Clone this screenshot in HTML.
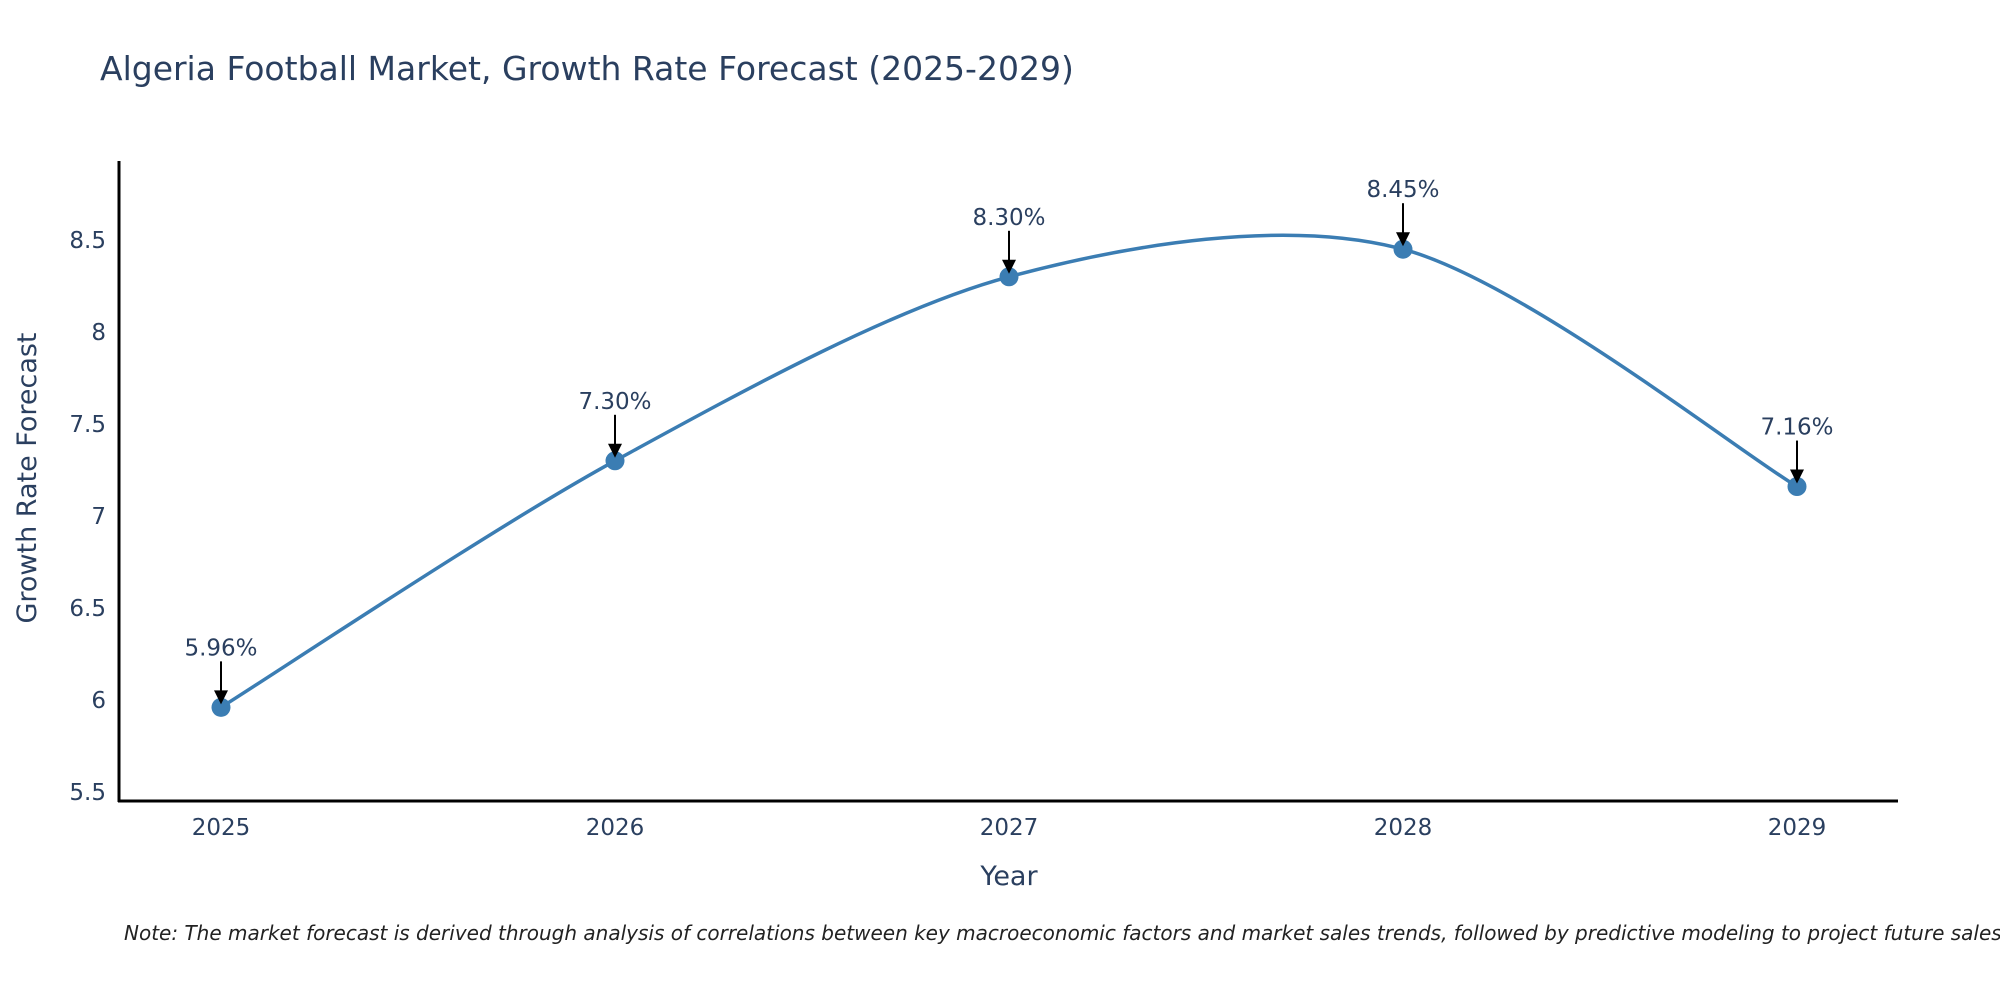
<!DOCTYPE html>
<html><head><meta charset="utf-8"><style>
body{margin:0;background:#fff;overflow:hidden;}
svg text{font-family:"DejaVu Sans","Liberation Sans",sans-serif;fill:#2a3f5f;}
</style></head><body>
<svg id="chart" width="2000" height="1000" xmlns="http://www.w3.org/2000/svg">
<text x="100" y="80" font-size="33">Algeria Football Market, Growth Rate Forecast (2025-2029)</text>
<g id="yticks"></g>
<g id="xticks"></g>
<line x1="119" y1="161" x2="119" y2="802" stroke="#000" stroke-width="3"/>
<line x1="118" y1="801" x2="1898" y2="801" stroke="#000" stroke-width="3"/>
<path id="line" fill="none" stroke="#3b7db3" stroke-width="3.5"/>
<g id="points"></g>
<g id="annots"></g>
<text transform="translate(36,478) rotate(-90)" text-anchor="middle" font-size="27">Growth Rate Forecast</text>
<text x="1009" y="885" text-anchor="middle" font-size="27">Year</text>
<text x="124" y="940" font-size="20" font-style="italic" style="fill:#222">Note: The market forecast is derived through analysis of correlations between key macroeconomic factors and market sales trends, followed by predictive modeling to project future sales.</text>
</svg>
<script>
const years=[2025,2026,2027,2028,2029];
const values=[5.96,7.30,8.30,8.45,7.16];
const labels=["5.96%","7.30%","8.30%","8.45%","7.16%"];
const yTicks=[5.5,6,6.5,7,7.5,8,8.5];
const yTickLabels=["5.5","6","6.5","7","7.5","8","8.5"];
const NS="http://www.w3.org/2000/svg";
function xs(v){return 221+(v-2025)*394;}
function ys(v){return 792-(v-5.5)*184;}
function mk(t,a,p){const e=document.createElementNS(NS,t);for(const k in a)e.setAttribute(k,a[k]);p.appendChild(e);return e;}
const yg=document.getElementById('yticks');
yTicks.forEach((t,i)=>{const e=mk('text',{x:106,y:ys(t)+8,'text-anchor':'end','font-size':23},yg);e.textContent=yTickLabels[i];

});
const xg=document.getElementById('xticks');
years.forEach(y=>{const e=mk('text',{x:xs(y),y:835,'text-anchor':'middle','font-size':23},xg);e.textContent=String(y);

});
const P=years.map((y,i)=>[xs(y),ys(values[i])]);
let d='M'+P[0][0]+','+P[0][1];
const s=0.15;
for(let i=0;i<P.length-1;i++){
 const p0=P[Math.max(i-1,0)],p1=P[i],p2=P[i+1],p3=P[Math.min(i+2,P.length-1)];
 const c1=[p1[0]+(p2[0]-p0[0])*s,p1[1]+(p2[1]-p0[1])*s];
 const c2=[p2[0]-(p3[0]-p1[0])*s,p2[1]-(p3[1]-p1[1])*s];
 d+=' C'+c1.join(',')+' '+c2.join(',')+' '+p2.join(',');
}
document.getElementById('line').setAttribute('d',d);
const pg=document.getElementById('points'),ag=document.getElementById('annots');
P.forEach((p,i)=>{
 const c=mk('circle',{cx:p[0],cy:p[1],r:9.5,fill:'#3b7db3'},pg);
 
 
 const l=mk('line',{x1:p[0],y1:p[1]-46,x2:p[0],y2:p[1]-16,stroke:'#000','stroke-width':2},ag);
 
 
 const h=mk('polygon',{points:(p[0]-7)+','+(p[1]-17)+' '+(p[0]+7)+','+(p[1]-17)+' '+p[0]+','+(p[1]-3),fill:'#000'},ag);
 
 
 const t=mk('text',{x:p[0],y:p[1]-52,'text-anchor':'middle','font-size':23},ag);
 t.textContent=labels[i];
 
 
});
</script>
</body></html>
